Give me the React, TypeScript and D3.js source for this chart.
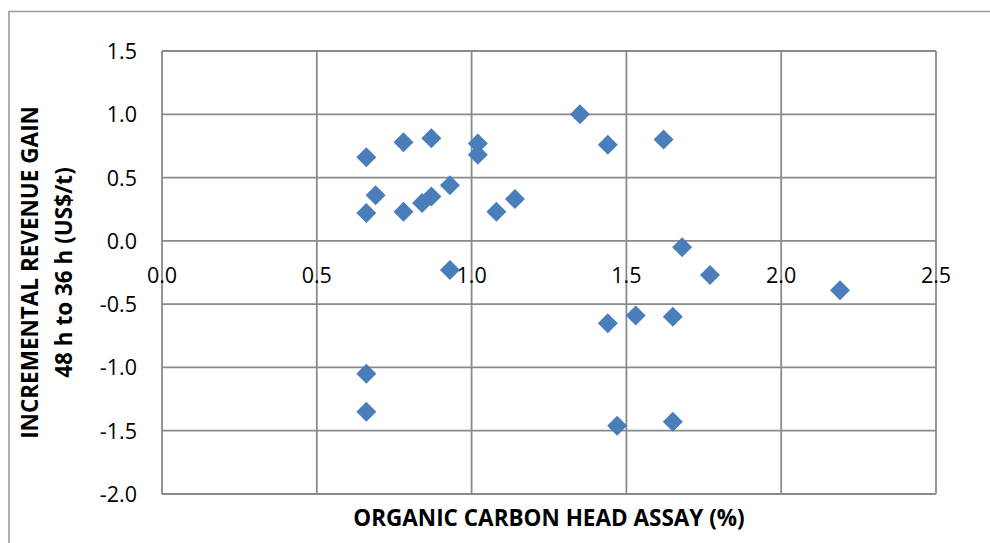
import React from "react";
import * as d3 from "d3";

// Organic carbon head assay (%) against incremental revenue gain (US$/t)
const carbonAssay = [
  0.66, 0.66, 0.69, 0.78, 0.78, 0.84, 0.87, 0.87, 0.93, 0.93, 1.02, 1.02, 1.08, 1.14,
  1.35, 1.44, 1.62, 1.68, 1.77, 2.19, 1.44, 1.53, 1.65, 1.47, 1.65, 0.66, 0.66,
];
const revenueGain = [
  0.66, 0.22, 0.36, 0.78, 0.23, 0.30, 0.81, 0.35, 0.44, -0.23, 0.77, 0.68, 0.23, 0.33,
  1.0, 0.76, 0.8, -0.05, -0.27, -0.39, -0.65, -0.59, -0.6, -1.46, -1.43, -1.05, -1.35,
];
const xTicks = [0, 0.5, 1.0, 1.5, 2.0, 2.5];
const yTicks = [1.5, 1.0, 0.5, 0.0, -0.5, -1.0, -1.5, -2.0];

const W = 990;
const H = 543;
const plot = { left: 162, right: 936, top: 51, bottom: 494 };
const FONT = "'Open Sans', 'Liberation Sans', sans-serif";
const GRID = "#8a8a8a";
const MARK = "#4a7ebb";

export default function App() {
  const x = d3.scaleLinear().domain([0, 2.5]).range([plot.left, plot.right]);
  const y = d3.scaleLinear().domain([-2, 1.5]).range([plot.bottom, plot.top]);
  // plain hyphen for negatives
  const fmt = (v: number) => d3.format(".1f")(v).replace("\u2212", "-");
  const r = 10;
  const diamond = (cx: number, cy: number) =>
    `M${cx},${cy - r}L${cx + r},${cy}L${cx},${cy + r}L${cx - r},${cy}Z`;

  return (
    <svg
      width={W}
      height={H}
      style={{ position: "absolute", left: 0, top: 0, background: "#fff" }}
      fontFamily={FONT}
    >
      <rect x={0} y={0} width={W} height={H} fill="#fff" />
      {/* chart frame */}
      <path d={`M9,${H + 2}V11.5H${W + 2}`} fill="none" stroke="#9a9a9a" strokeWidth={1.6} />

      {/* gridlines */}
      {yTicks.map((t) => (
        <line key={"gy" + t} x1={plot.left} x2={plot.right} y1={y(t)} y2={y(t)} stroke={GRID} strokeWidth={1.8} />
      ))}
      {xTicks.map((t) => (
        <line key={"gx" + t} x1={x(t)} x2={x(t)} y1={plot.top} y2={plot.bottom} stroke={GRID} strokeWidth={1.8} />
      ))}

      {/* y tick labels */}
      {yTicks.map((t) => (
        <text key={"ly" + t} x={137} y={y(t) + 8} textAnchor="end" fontSize={21.5} fill="#000">
          {fmt(t)}
        </text>
      ))}
      {/* x tick labels, sitting on the zero line */}
      {xTicks.map((t) => (
        <text key={"lx" + t} x={x(t)} y={y(0) + 42} textAnchor="middle" fontSize={21.5} fill="#000">
          {fmt(t)}
        </text>
      ))}

      {/* markers */}
      {carbonAssay.map((v, i) => (
        <path key={"p" + i} d={diamond(x(v), y(revenueGain[i]))} fill={MARK} />
      ))}

      {/* axis titles */}
      <text x={(plot.left + plot.right) / 2} y={526} textAnchor="middle" fontSize={22.5} fontWeight="bold" fill="#000">
        ORGANIC CARBON HEAD ASSAY (%)
      </text>
      <g transform={`translate(38,${(plot.top + plot.bottom) / 2}) rotate(-90)`}>
        <text x={0} y={0} textAnchor="middle" fontSize={22.5} fontWeight="bold" fill="#000">
          INCREMENTAL REVENUE GAIN
        </text>
        <text x={0} y={34} textAnchor="middle" fontSize={22.5} fontWeight="bold" fill="#000">
          48 h to 36 h (US$/t)
        </text>
      </g>
    </svg>
  );
}
